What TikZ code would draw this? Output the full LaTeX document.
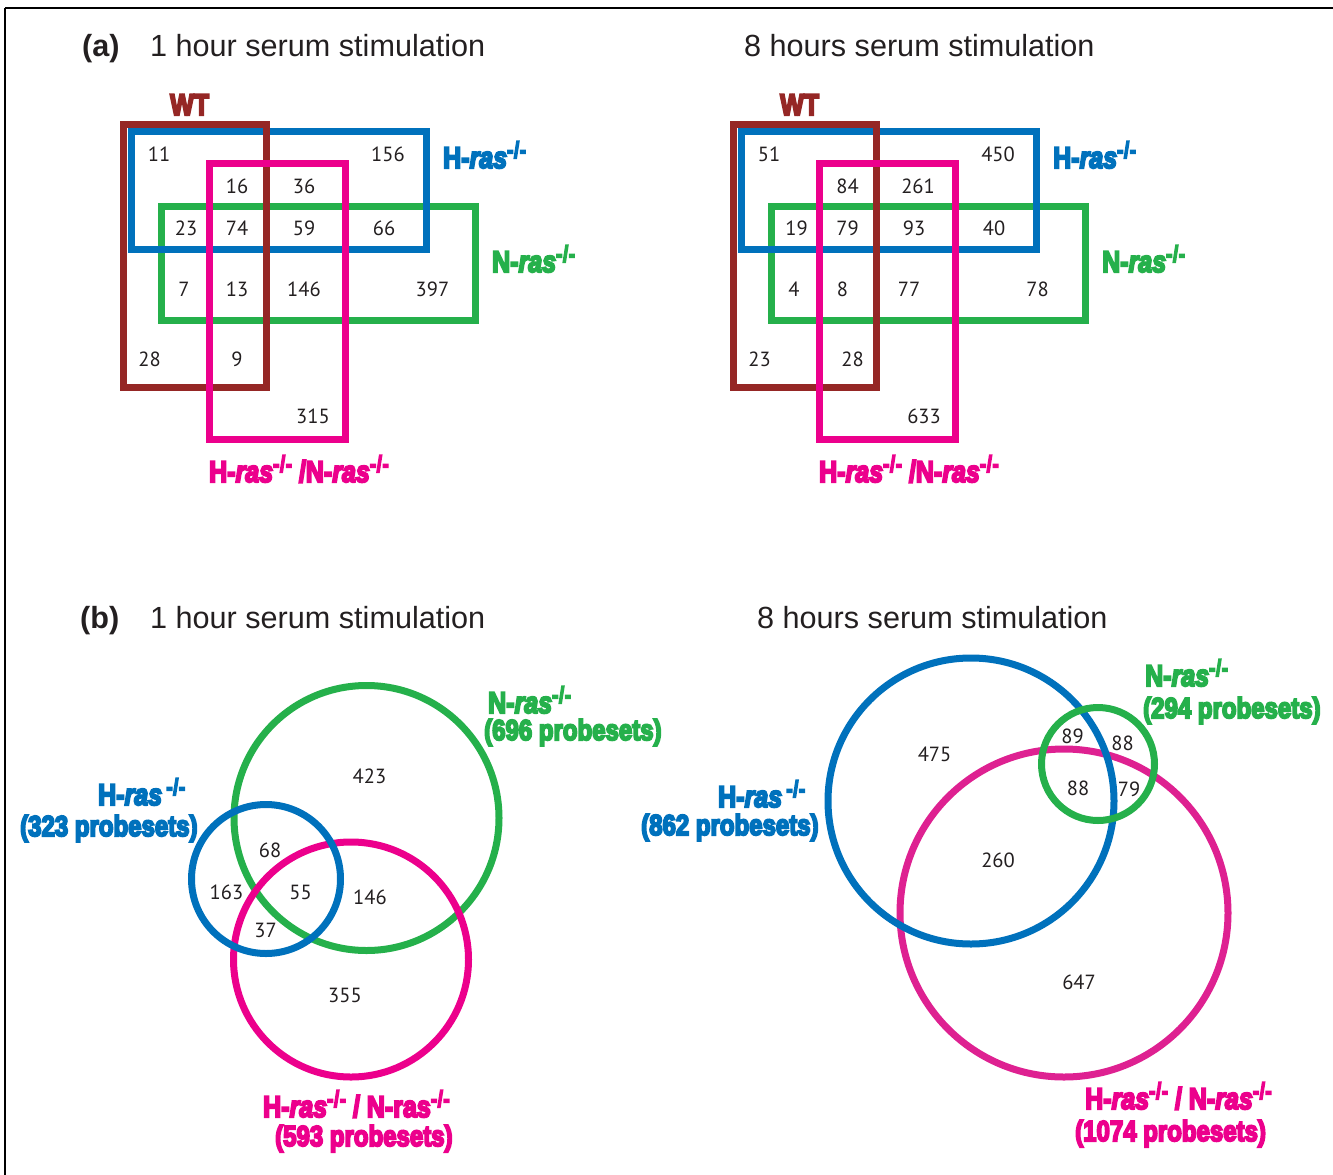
\documentclass[tikz,border=0pt]{standalone}
\usepackage{fontspec}
\usepackage{graphicx}
\setmainfont{Liberation Sans}
\newfontfamily\numfont{PT Sans}
\newfontfamily\lblfont{Liberation Sans Bold}[ItalicFont={Liberation Sans Bold Italic}, FakeBold=7]

\definecolor{ink}{HTML}{231F20}
\definecolor{wtred}{HTML}{952725}
\definecolor{hblue}{HTML}{0071BC}
\definecolor{ngreen}{HTML}{25B04B}
\definecolor{dpink}{HTML}{EC008C}
\definecolor{dpinkb}{HTML}{DE2191}

% genotype labels
\newcommand\ko{\raisebox{8.5pt}{\fontsize{19}{19}\selectfont -\kern0.5pt/\kern0.5pt-}}
\newcommand\tall[1]{\scalebox{1}[1.2]{#1}}
\newcommand\Hras{H-\textit{ras}\ko}
\newcommand\Nras{N-\textit{ras}\ko}

\tikzset{
  frame/.style={line width=2pt, black},
  setbox/.style={line width=7pt},
  setring/.style={line width=7pt},
  num/.style={font=\numfont\fontsize{20.5}{20.5}\selectfont, text=ink, inner sep=0pt},
  title/.style={font=\fontsize{30.6}{30.6}\selectfont, text=ink, anchor=base west, inner sep=0pt},
  lbl/.style={font=\lblfont\fontsize{25}{25}\selectfont, anchor=base west, inner sep=0pt},
  plbl/.style={font=\lblfont\fontsize{24}{24}\selectfont, anchor=base west, inner sep=0pt},
}

\begin{document}
\begin{tikzpicture}[x=1pt,y=-1pt]
\useasboundingbox (0,0) rectangle (1333,1175);

% outer frame (top and left rules)
\draw[frame] (5,7.5) -- (1333,7.5);
\draw[frame] (5,7.5) -- (5,1175);

% ---------- (a) titles ----------
\node[title, font=\bfseries\fontsize{30.6}{30.6}\selectfont] (ta) at (82,56) {(a)};
\node[title] (ta1) at (150,56) {1 hour serum stimulation};
\node[title] (ta8) at (744,56) {8 hours serum stimulation};

% ---------- (a) 1 hour boxes ----------
\draw[setbox, ngreen] (161.5,206) rectangle (475,320.5);
\draw[setbox, hblue] (131,131) rectangle (426.5,249.5);
\draw[setbox, wtred] (123.5,124) rectangle (266.5,387.5);
\draw[setbox, dpink] (209,163) rectangle (345.5,439);

\node[num] (a1n11) at (159,154) {11};
\node[num] (a1n156) at (388,154) {156};
\node[num] (a1n16) at (237,186) {16};
\node[num] (a1n36) at (304,186) {36};
\node[num] (a1n23) at (186,228) {23};
\node[num] (a1n74) at (237,228) {74};
\node[num] (a1n59) at (304,228) {59};
\node[num] (a1n66) at (384,228) {66};
\node[num] (a1n7) at (184,289) {7};
\node[num] (a1n13) at (237,289) {13};
\node[num] (a1n146) at (304,289) {146};
\node[num] (a1n397) at (432.5,289) {397};
\node[num] (a1n28) at (149.5,359) {28};
\node[num] (a1n9) at (237,359) {9};
\node[num] (a1n315) at (313,416) {315};

\node[lbl, text=wtred] (a1wt) at (170,115) {\tall{WT}};
\node[lbl, text=hblue] (a1h) at (443,168) {\tall{\Hras}};
\node[lbl, text=ngreen] (a1n) at (492,272) {\tall{\Nras}};
\node[lbl, text=dpink] (a1hn) at (209,482) {\tall{\Hras{} /\Nras}};

% ---------- (a) 8 hours boxes ----------
\draw[setbox, ngreen] (771.5,206) rectangle (1085,320.5);
\draw[setbox, hblue] (741,131) rectangle (1036.5,249.5);
\draw[setbox, wtred] (733.5,124) rectangle (876.5,387.5);
\draw[setbox, dpink] (819,163) rectangle (955.5,439);

\node[num] (a8n51) at (769,154) {51};
\node[num] (a8n450) at (998,154) {450};
\node[num] (a8n84) at (847.5,186) {84};
\node[num] (a8n261) at (918,186) {261};
\node[num] (a8n19) at (796.5,228) {19};
\node[num] (a8n79) at (847.5,228) {79};
\node[num] (a8n93) at (914,228) {93};
\node[num] (a8n40) at (994,228) {40};
\node[num] (a8n4) at (794,289) {4};
\node[num] (a8n8) at (842.5,289) {8};
\node[num] (a8n77) at (909,289) {77};
\node[num] (a8n78) at (1037.5,289) {78};
\node[num] (a8n23) at (759.5,359) {23};
\node[num] (a8n28) at (852.5,359) {28};
\node[num] (a8n633) at (924,416) {633};

\node[lbl, text=wtred] (a8wt) at (780,115) {\tall{WT}};
\node[lbl, text=hblue] (a8h) at (1053,168) {\tall{\Hras}};
\node[lbl, text=ngreen] (a8n) at (1102,272) {\tall{\Nras}};
\node[lbl, text=dpink] (a8hn) at (819,482) {\tall{\Hras{} /\Nras}};

% ---------- (b) titles ----------
\node[title, font=\bfseries\fontsize{30.6}{30.6}\selectfont] (tb) at (80,628) {(b)};
\node[title] (tb1) at (150,628) {1 hour serum stimulation};
\node[title] (tb8) at (757,628) {8 hours serum stimulation};

% ---------- (b) 1 hour circles ----------
\draw[setring, ngreen] (366.5,818) circle[radius=132.5];
\draw[setring, dpink] (351,959.5) circle[radius=117.5];
\draw[setring, hblue] (266,879) circle[radius=74.5];

\node[num] (b1n423) at (369.5,776.5) {423};
\node[num] (b1n68) at (270,850.5) {68};
\node[num] (b1n163) at (226.5,892) {163};
\node[num] (b1n55) at (300.5,892) {55};
\node[num] (b1n146) at (370,897.5) {146};
\node[num] (b1n37) at (265.5,930) {37};
\node[num] (b1n355) at (345,995.5) {355};

\node[lbl, text=ngreen] (b1n) at (488,713) {\tall{\Nras}};
\node[plbl, text=ngreen] (b1np) at (484,740) {\tall{(696 probesets)}};
\node[lbl, text=hblue] (b1h) at (98,805) {\tall{H-\textit{ras}\,\ko}};
\node[plbl, text=hblue] (b1hp) at (20,836) {\tall{(323 probesets)}};
\node[lbl, text=dpink] (b1hn) at (263,1117) {\tall{\Hras{} / N-ras\ko}};
\node[plbl, text=dpink] (b1hnp) at (275,1146) {\tall{(593 probesets)}};

% ---------- (b) 8 hours circles ----------
\draw[setring, dpinkb] (1064,913) circle[radius=164];
\draw[setring, hblue] (971,801) circle[radius=143];
\draw[setring, ngreen] (1098,764) circle[radius=56.5];

\node[num] (b8n475) at (934.5,754) {475};
\node[num] (b8n89) at (1072.5,736.5) {89};
\node[num] (b8n88a) at (1122.5,743) {88};
\node[num] (b8n88b) at (1078,788) {88};
\node[num] (b8n79) at (1129,789.5) {79};
\node[num] (b8n260) at (998,860) {260};
\node[num] (b8n647) at (1079,982.5) {647};

\node[lbl, text=ngreen] (b8n) at (1145,686) {\tall{\Nras}};
\node[plbl, text=ngreen] (b8np) at (1143,718) {\tall{(294 probesets)}};
\node[lbl, text=hblue] (b8h) at (718,807) {\tall{H-\textit{ras}\,\ko}};
\node[plbl, text=hblue] (b8hp) at (641,835) {\tall{(862 probesets)}};
\node[lbl, text=dpink] (b8hn) at (1085,1109) {\tall{\Hras{} / \Nras}};
\node[plbl, text=dpink] (b8hnp) at (1075,1141) {\tall{(1074 probesets)}};
\end{tikzpicture}
\end{document}
